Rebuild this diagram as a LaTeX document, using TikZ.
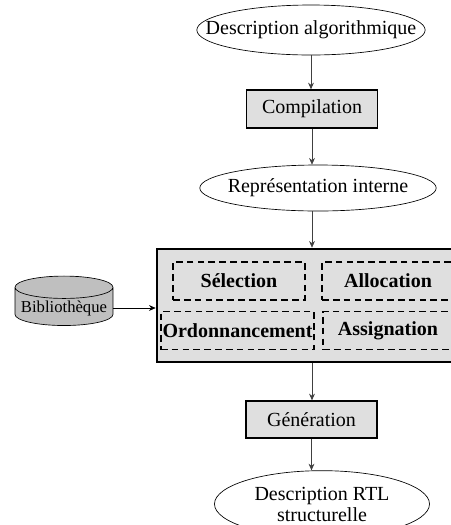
\documentclass[tikz,border=0pt]{standalone}
\usepackage{fontspec}
\setmainfont{Liberation Serif}
\usepackage{tikz}
\usetikzlibrary{shapes.geometric,arrows.meta}
\tikzset{
  fleche/.style={-{Stealth[length=4pt,width=3.5pt]},color=black!75},
  etape/.style={draw,fill=gray!25,thick,minimum width=78.6pt,minimum height=22.8pt},
  donnee/.style={draw,ellipse,inner ysep=0pt},
  tache/.style={draw,dash pattern=on 4pt off 2.5pt,thick,minimum height=22.8pt,font=\fontsize{12}{14}\selectfont\bfseries}
}

\begin{document}
\begin{tikzpicture}[x=0.6pt,y=-0.6pt,font=\fontsize{12}{14}\selectfont]

\useasboundingbox (0,0) rectangle (451,525);
\clip (0,0) rectangle (451,525);

\node[donnee,inner xsep=-15pt,minimum width=137pt,minimum height=30pt] (desc) at (311,30) {Description algorithmique};
\node[etape] (compil) at (312,109) {Compilation};
\node[donnee,inner xsep=-4pt,minimum width=140pt,minimum height=27.6pt] (repr) at (318,188) {Représentation interne};

% bloc de synthese
\node[draw,fill=gray!25,line width=1.6pt,minimum width=186pt,minimum height=67.8pt] (synth) at (312,305.5) {};
\node[tache,minimum width=79.2pt] (sel) at (239,281) {Sélection};
\node[tache,minimum width=79.2pt] (alloc) at (388,281) {Allocation};
\node[tache,minimum width=90.6pt,inner sep=1pt] (ordo) at (237.5,330.5) {Ordonnancement};
\node[tache,minimum width=78pt] (assig) at (388,330.5) {Assignation};

\node[draw,cylinder,shape border rotate=90,aspect=0.25,fill=gray!50,minimum width=58.8pt,minimum height=26.4pt,inner sep=1pt,font=\fontsize{10}{12}\selectfont] (biblio) at (64,308) {Bibliothèque};

\node[etape,minimum height=22.2pt] (gen) at (311.5,419.5) {Génération};
\node[donnee,inner sep=0pt,minimum width=129pt,minimum height=40pt,align=center,font=\fontsize{12}{12.6}\selectfont] (rtl) at (322,504) {Description RTL\\structurelle};

\draw[fleche] (desc.south) -- (desc.south |- compil.north);
\draw[fleche] (compil.south) -- (compil.south |- repr.north);
\draw[fleche] (compil.south |- repr.south) -- (compil.south |- synth.north);
\draw[fleche,color=black] (biblio.east) -- (biblio.east -| synth.west);
\draw[fleche] (compil.south |- synth.south) -- (compil.south |- gen.north);
\draw[fleche] (gen.south) -- (gen.south |- rtl.north);
\end{tikzpicture}
\end{document}
